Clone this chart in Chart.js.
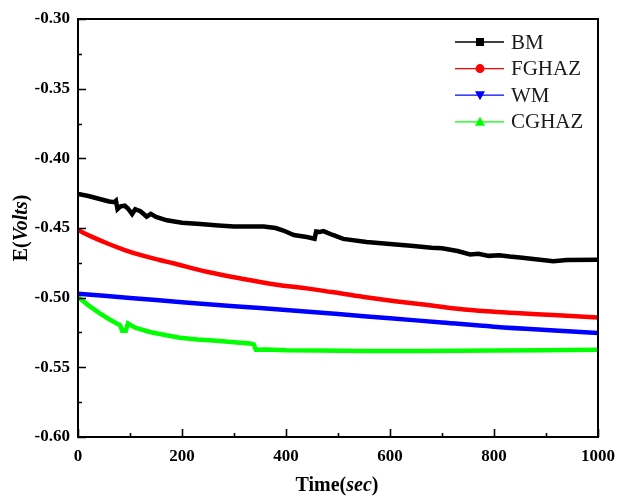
<!DOCTYPE html>
<html>
<head>
<meta charset="utf-8">
<script src="https://cdn.jsdelivr.net/npm/chart.js@4"></script>
<style>
  html, body { margin: 0; padding: 0; background: #fff; }
  canvas { display: block; }
</style>
</head>
<body>
<canvas id="potentialChart" width="618" height="496"></canvas>
<script>
// time (sec) and potential (V)
const bmTime = [0, 20, 40, 60, 70, 73, 76, 82, 90, 96, 104, 110, 120, 132, 140, 150, 171, 200, 235, 270, 300, 357, 380, 395, 415, 440, 455, 458, 465, 472, 480, 490, 510, 555, 600, 640, 680, 700, 730, 754, 770, 790, 810, 830, 850, 880, 914, 940, 1000];
const bmE = [-0.4255, -0.427, -0.429, -0.431, -0.4315, -0.4305, -0.4365, -0.4345, -0.434, -0.436, -0.440, -0.4365, -0.438, -0.4418, -0.4398, -0.442, -0.4445, -0.4462, -0.4472, -0.4482, -0.449, -0.449, -0.450, -0.4518, -0.455, -0.4565, -0.4577, -0.4525, -0.4528, -0.4522, -0.4535, -0.455, -0.4578, -0.4601, -0.4615, -0.4628, -0.4642, -0.4645, -0.4665, -0.469, -0.4685, -0.470, -0.4695, -0.4705, -0.4712, -0.4725, -0.4738, -0.473, -0.4728];

const fgTime = [0, 25, 58, 90, 123, 155, 187, 250, 315, 379, 443, 488, 550, 610, 677, 730, 786, 850, 914, 1000];
const fgE = [-0.4515, -0.456, -0.4613, -0.4658, -0.4697, -0.4728, -0.4757, -0.4816, -0.4864, -0.4905, -0.4935, -0.496, -0.4995, -0.5025, -0.5055, -0.508, -0.5098, -0.5112, -0.5125, -0.5143];

const wmTime = [0, 100, 200, 300, 400, 500, 600, 700, 800, 900, 1000];
const wmE = [-0.4972, -0.5002, -0.5033, -0.5062, -0.5088, -0.5118, -0.5148, -0.5178, -0.5208, -0.5232, -0.5253];

const cgTime = [0, 20, 42, 60, 81, 85, 92, 96, 110, 138, 170, 196, 230, 267, 300, 331, 338, 342, 360, 400, 465, 550, 658, 800, 900, 1000];
const cgE = [-0.4995, -0.5055, -0.5112, -0.5155, -0.5198, -0.5238, -0.5238, -0.5185, -0.5215, -0.5246, -0.527, -0.5287, -0.530, -0.531, -0.532, -0.5329, -0.5335, -0.5373, -0.5372, -0.5378, -0.538, -0.5383, -0.5383, -0.538, -0.5377, -0.5373];

const seriesNames = ["BM", "FGHAZ", "WM", "CGHAZ"];
const seriesColors = ["#000000", "#ff0000", "#0000ff", "#00ff00"];
const markerStyles = ["square", "circle", "triDown", "triUp"];

const xTicks = [0, 200, 400, 600, 800, 1000];
const yTicks = [-0.60, -0.55, -0.50, -0.45, -0.40, -0.35, -0.30];

const SERIF = '"Liberation Serif", "Times New Roman", serif';

function toPoints(xs, ys) {
    return xs.map((x, i) => ({ x: x, y: ys[i] }));
}

// frame, inward ticks, axis titles and legend
const decorPlugin = {
    id: "decor",
    afterDatasetsDraw(chart) {
        const ctx = chart.ctx;
        const a = chart.chartArea;
        const xs = chart.scales.x;
        const ys = chart.scales.y;

        ctx.save();
        ctx.strokeStyle = "#000";
        ctx.lineWidth = 2;
        ctx.strokeRect(a.left, a.top, a.right - a.left, a.bottom - a.top);

        ctx.lineWidth = 1.6;
        ctx.beginPath();
        for (let v = 0; v <= 1000; v += 100) {
            const px = Math.round(xs.getPixelForValue(v)) + 0.5;
            const len = v % 200 === 0 ? 8 : 4;
            ctx.moveTo(px, a.bottom);
            ctx.lineTo(px, a.bottom - len);
        }
        for (let i = 0; i <= 12; i++) {
            const v = -0.60 + i * 0.025;
            const py = Math.round(ys.getPixelForValue(v)) + 0.5;
            const len = i % 2 === 0 ? 8 : 4;
            ctx.moveTo(a.left, py);
            ctx.lineTo(a.left + len, py);
        }
        ctx.stroke();

        // x title: Time(sec)
        ctx.fillStyle = "#000";
        ctx.textBaseline = "alphabetic";
        const parts = [["Time(", "bold"], ["sec", "italic bold"], [")", "bold"]];
        let total = 0;
        parts.forEach(p => { ctx.font = p[1] + " 20px " + SERIF; total += ctx.measureText(p[0]).width; });
        let tx = (a.left + a.right) / 2 - total / 2 - 1;
        parts.forEach(p => {
            ctx.font = p[1] + " 20px " + SERIF;
            ctx.fillText(p[0], tx, 491);
            tx += ctx.measureText(p[0]).width;
        });

        // y title: E(Volts)
        ctx.save();
        ctx.translate(27, (a.top + a.bottom) / 2);
        ctx.rotate(-Math.PI / 2);
        const yparts = [["E(", "bold"], ["Volts", "italic bold"], [")", "bold"]];
        total = 0;
        yparts.forEach(p => { ctx.font = p[1] + " 20px " + SERIF; total += ctx.measureText(p[0]).width; });
        let ty = -total / 2;
        yparts.forEach(p => {
            ctx.font = p[1] + " 20px " + SERIF;
            ctx.fillText(p[0], ty, 0);
            ty += ctx.measureText(p[0]).width;
        });
        ctx.restore();

        // legend
        ctx.font = "21px " + SERIF;
        ctx.textBaseline = "middle";
        seriesNames.forEach((name, i) => {
            const cy = 42 + i * 26.6;
            ctx.strokeStyle = seriesColors[i];
            ctx.fillStyle = seriesColors[i];
            ctx.lineWidth = 1.3;
            ctx.beginPath();
            ctx.moveTo(455, cy);
            ctx.lineTo(504, cy);
            ctx.stroke();
            const mx = 480;
            ctx.beginPath();
            if (markerStyles[i] === "square") {
                ctx.rect(mx - 4, cy - 4, 8, 8);
            } else if (markerStyles[i] === "circle") {
                ctx.arc(mx, cy, 4.5, 0, Math.PI * 2);
            } else if (markerStyles[i] === "triDown") {
                ctx.moveTo(mx - 5, cy - 4);
                ctx.lineTo(mx + 5, cy - 4);
                ctx.lineTo(mx, cy + 5);
                ctx.closePath();
            } else {
                ctx.moveTo(mx - 5, cy + 4);
                ctx.lineTo(mx + 5, cy + 4);
                ctx.lineTo(mx, cy - 5);
                ctx.closePath();
            }
            ctx.fill();
            ctx.fillStyle = "#1a1a1a";
            ctx.fillText(name, 511, cy + 1);
        });
        ctx.restore();
    }
};

const datasets = [
    [bmTime, bmE, 0],
    [fgTime, fgE, 0.4],
    [wmTime, wmE, 0.4],
    [cgTime, cgE, 0]
].map((d, i) => ({
    label: seriesNames[i],
    data: toPoints(d[0], d[1]),
    borderColor: seriesColors[i],
    backgroundColor: seriesColors[i],
    borderWidth: 4.5,
    pointRadius: 0,
    tension: d[2],
    fill: false
}));

new Chart(document.getElementById("potentialChart"), {
    type: "line",
    data: { datasets },
    options: {
        responsive: false,
        animation: false,
        layout: { padding: { top: 19, right: 20, left: 0, bottom: 0 } },
        plugins: {
            legend: { display: false },
            tooltip: { enabled: false }
        },
        scales: {
            x: {
                type: "linear",
                min: 0,
                max: 1000,
                afterBuildTicks: s => { s.ticks = xTicks.map(v => ({ value: v })); },
                afterFit: s => {
                    s.height = 59;
                    s.paddingLeft = 0;
                    s.paddingRight = 0;
                },
                grid: { drawOnChartArea: false, drawTicks: false },
                border: { display: false },
                ticks: {
                    padding: 9,
                    color: "#000",
                    maxRotation: 0,
                    font: { family: SERIF, size: 17, weight: "bold" },
                    callback: v => String(v)
                }
            },
            y: {
                type: "linear",
                min: -0.60,
                max: -0.30,
                afterBuildTicks: s => { s.ticks = yTicks.map(v => ({ value: v })); },
                afterFit: s => {
                    s.width = 78;
                    s.paddingTop = 0;
                    s.paddingBottom = 0;
                },
                grid: { drawOnChartArea: false, drawTicks: false },
                border: { display: false },
                ticks: {
                    padding: 8,
                    color: "#000",
                    font: { family: SERIF, size: 17, weight: "bold" },
                    callback: v => v.toFixed(2)
                }
            }
        }
    },
    plugins: [decorPlugin]
});
</script>
</body>
</html>
